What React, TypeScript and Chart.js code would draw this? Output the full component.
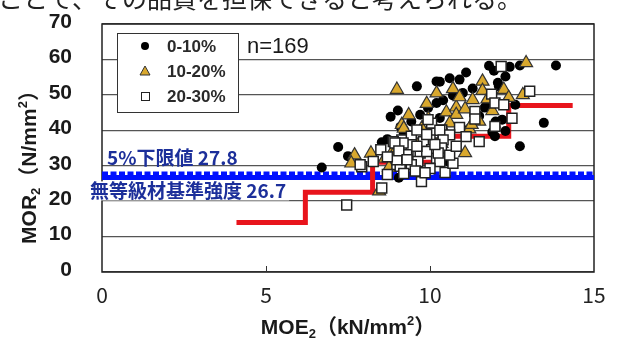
import React, { useEffect, useRef } from 'react';
import { Chart, registerables } from 'chart.js';
Chart.register(...registerables);

// MOE2 (kN/mm2), MOR2 (N/mm2) pairs per moisture group
const group0to10: [number, number][] = [
  [6.7, 29.5], [7.2, 35.3], [7.5, 32.7], [8.53, 36.6], [9.05, 26.6], [9.02, 45.6], [9.6, 52.4],
  [10.2, 53.8], [10.6, 54.7], [10.9, 54.3], [11.1, 56.3], [11.8, 58.2], [12.43, 57.9], [12.74, 58.3],
  [13.84, 58.3], [12.07, 53.4], [10.3, 53.7], [9.43, 42.5], [9.7, 44.4], [9.94, 46.3], [10.2, 47.7],
  [10.4, 48.5], [11.67, 46.4], [12.6, 47.2], [13.47, 42.1], [12.0, 42.5], [12.74, 35.5], [10.56, 31.2],
  [11.98, 38.3], [12.1, 52.4], [12.2, 43.0], [12.0, 40.8], [11.7, 46.7], [10.3, 43.5], [11.2, 40.5],
  [11.9, 39.5], [9.1, 41.0], [8.7, 37.5], [10.0, 35.5], [11.5, 44.0], [12.3, 39.8], [9.35, 36.5],
  [11.0, 50.5], [10.7, 49.8], [8.8, 43.8], [9.2, 39.0], [11.3, 51.8], [12.3, 55.2], [11.95, 56.8],
];
const group10to20: [number, number][] = [
  [8.99, 51.5], [7.7, 33.0], [7.6, 30.7], [8.63, 32.1], [8.85, 33.9], [8.45, 22.8], [9.14, 41.6],
  [9.2, 40.5], [9.75, 40.6], [10.5, 45.1], [10.8, 46.5], [10.7, 51.7], [10.9, 49.4], [11.3, 48.6],
  [11.6, 53.8], [11.6, 51.2], [12.25, 51.5], [12.93, 59.0], [12.83, 50.0], [11.07, 33.6], [11.2, 40.3],
  [10.8, 44.4], [10.6, 42.0], [11.07, 46.0], [11.5, 42.5], [11.27, 41.6], [9.95, 43.3], [10.1, 38.5],
  [9.5, 37.5], [8.2, 33.5], [9.0, 35.0], [10.35, 36.2], [11.9, 45.5], [12.4, 49.2], [10.2, 50.5],
  [9.9, 47.5], [8.75, 29.5], [10.45, 39.5], [11.75, 48.8], [9.35, 44.3],
];
const group20to30: [number, number][] = [
  [12.17, 58.0], [13.04, 51.0], [11.88, 50.2], [11.98, 47.7], [12.25, 47.2], [11.37, 45.3], [12.5, 43.4],
  [11.98, 41.1], [10.9, 40.8], [10.36, 40.1], [11.5, 36.8], [11.37, 43.2], [10.05, 42.0], [10.1, 39.2],
  [10.3, 40.0], [10.0, 37.3], [10.6, 38.7], [10.4, 37.3], [10.35, 35.0], [9.14, 37.3], [9.43, 38.3],
  [9.94, 43.0], [9.43, 35.9], [9.8, 36.8], [9.6, 40.1], [8.88, 36.8], [9.18, 36.4], [9.7, 33.6],
  [9.33, 33.1], [10.05, 34.5], [9.63, 31.2], [10.2, 32.1], [10.3, 31.2], [8.99, 30.3], [8.27, 31.2],
  [7.92, 29.7], [8.93, 36.4], [9.9, 34.0], [9.29, 33.1], [9.43, 30.3], [9.09, 29.8], [8.99, 31.7],
  [9.74, 25.5], [7.87, 30.3], [8.53, 23.7], [7.46, 18.9], [10.46, 28.1], [10.25, 33.6], [10.7, 30.7],
  [9.55, 28.5], [9.2, 27.8], [8.7, 27.5], [10.0, 29.2], [9.85, 28.0], [8.5, 34.5], [10.6, 33.0],
  [9.6, 35.5], [11.1, 38.2], [9.05, 34.2], [10.15, 36.0], [8.7, 32.5], [9.3, 31.7], [9.9, 38.8], [10.8, 35.5],
];
// grade lower-limit step line: each level runs from stepX[i] to stepX[i+1]
const stepX = [4.1, 6.2, 8.25, 10.3, 12.4, 14.35];
const stepY = [14, 22.5, 31, 38.3, 47];
const fifthPercentile = 27.8;
const baseStrength = 26.7;
const xTicks = [0, 5, 10, 15];
const yTicks = [0, 10, 20, 30, 40, 50, 60, 70];
const legendLabels = ['0-10%', '10-20%', '20-30%'];
const sampleLabel = 'n=169';
const refLabel1 = '5%下限値 27.8';
const refLabel2 = '無等級材基準強度 26.7';
const topText = 'ことで、その品質を担保できると考えられる。';

const toPts = (a: [number, number][]) => a.map(([x, y]) => ({ x, y }));
const stepPts = () => {
  const out: { x: number; y: number }[] = [];
  stepY.forEach((y, i) => { out.push({ x: stepX[i], y }, { x: stepX[i + 1], y }); });
  return out;
};

const TRI = '#D9A82E';
const NAVY = '#1c2f9a';

function richText(ctx: CanvasRenderingContext2D, parts: { t: string; s?: 'sub' | 'sup' }[], size: number, cx: number, cy: number, rot: number) {
  const fam = '"Liberation Sans", "Noto Sans CJK JP", sans-serif';
  const fontFor = (p: any) => `bold ${p.s ? Math.round(size * 0.62) : size}px ${fam}`;
  let w = 0;
  for (const p of parts) { ctx.font = fontFor(p); w += ctx.measureText(p.t).width; }
  ctx.save();
  ctx.translate(cx, cy);
  ctx.rotate(rot);
  ctx.textBaseline = 'alphabetic';
  ctx.textAlign = 'left';
  ctx.fillStyle = '#1a1a1a';
  let x = -w / 2;
  const base = size * 0.36;
  for (const p of parts) {
    ctx.font = fontFor(p);
    const dy = p.s === 'sub' ? size * 0.2 : p.s === 'sup' ? -size * 0.42 : 0;
    ctx.fillText(p.t, x, base + dy);
    x += ctx.measureText(p.t).width;
  }
  ctx.restore();
}

const overlay = {
  id: 'overlay',
  beforeDatasetsDraw(chart: any) {
    const { ctx, chartArea: a } = chart;
    ctx.save();
    ctx.strokeStyle = '#222';
    ctx.lineWidth = 1.5;
    ctx.strokeRect(a.left, a.top, a.right - a.left, a.bottom - a.top);
    ctx.restore();
  },
  afterDatasetsDraw(chart: any) {
    const { ctx, chartArea: a, scales } = chart;
    const xs = scales.x;
    const ys = scales.y;
    ctx.save();
    // inner tick marks
    ctx.strokeStyle = '#333';
    ctx.lineWidth = 1;
    for (const v of xTicks.slice(1, -1)) {
      const px = Math.round(xs.getPixelForValue(v)) + 0.5;
      ctx.beginPath(); ctx.moveTo(px, a.bottom); ctx.lineTo(px, a.bottom - 6); ctx.stroke();
    }
    // reference labels
    ctx.font = 'bold 19px "Noto Sans CJK JP", sans-serif';
    ctx.textBaseline = 'middle';
    ctx.textAlign = 'left';
    ctx.fillStyle = NAVY;
    const y1 = ys.getPixelForValue(fifthPercentile) - 16;
    const y2 = ys.getPixelForValue(baseStrength) + 13;
    ctx.fillText(refLabel1, a.left + 5, y1);
    const w2 = ctx.measureText(refLabel2).width;
    ctx.fillStyle = '#fff';
    ctx.fillRect(a.left - 13, y2 - 9, w2 + 4, 19);
    ctx.fillStyle = NAVY;
    ctx.fillText(refLabel2, a.left - 12, y2);
    // legend
    const lx = a.left + 15, ly = a.top + 9;
    ctx.fillStyle = '#fff';
    ctx.fillRect(lx, ly, 121, 79);
    ctx.strokeStyle = '#333';
    ctx.lineWidth = 1;
    ctx.strokeRect(lx + 0.5, ly + 0.5, 121, 79);
    const mx = lx + 28;
    const rows = [ly + 13, ly + 38, ly + 63];
    ctx.fillStyle = '#000';
    ctx.beginPath(); ctx.arc(mx, rows[0], 4, 0, Math.PI * 2); ctx.fill();
    ctx.beginPath();
    ctx.moveTo(mx, rows[1] - 5); ctx.lineTo(mx + 5, rows[1] + 4); ctx.lineTo(mx - 5, rows[1] + 4); ctx.closePath();
    ctx.fillStyle = TRI; ctx.fill(); ctx.strokeStyle = '#333'; ctx.stroke();
    ctx.fillStyle = '#fff';
    ctx.fillRect(mx - 4, rows[2] - 4, 8, 8);
    ctx.strokeStyle = '#222';
    ctx.strokeRect(mx - 3.5, rows[2] - 3.5, 8, 8);
    ctx.font = 'bold 17px "Liberation Sans", sans-serif';
    ctx.fillStyle = '#2a2a2a';
    legendLabels.forEach((t, i) => ctx.fillText(t, lx + 50, rows[i] + 1));
    ctx.font = '22px "Liberation Sans", sans-serif';
    ctx.fillStyle = '#1a1a1a';
    ctx.fillText(sampleLabel, lx + 130, rows[0] + 1);
    // axis titles
    richText(ctx, [{ t: 'MOE' }, { t: '2', s: 'sub' }, { t: '（kN/mm' }, { t: '2', s: 'sup' }, { t: '）' }], 21, (a.left + a.right) / 2, 326, 0);
    richText(ctx, [{ t: 'MOR' }, { t: '2', s: 'sub' }, { t: '（N/mm' }, { t: '2', s: 'sup' }, { t: '）' }], 21, 28, 162, -Math.PI / 2);
    // cropped text at top
    ctx.font = '25px "Noto Sans CJK JP", sans-serif';
    ctx.fillStyle = '#222';
    ctx.textBaseline = 'alphabetic';
    ctx.fillText(topText, -2, 8);
    ctx.restore();
  },
};

export default function App() {
  const ref = useRef<HTMLCanvasElement>(null);
  useEffect(() => {
    document.body.style.margin = '0';
    const chart = new Chart(ref.current!, {
      type: 'scatter',
      data: {
        datasets: [
          {
            data: toPts(group0to10), pointStyle: 'circle', pointRadius: 5, backgroundColor: '#000',
            borderWidth: 0, order: 3,
          } as any,
          {
            data: toPts(group10to20), pointStyle: 'triangle', pointRadius: 7.5, backgroundColor: TRI,
            borderColor: '#333', borderWidth: 1.2, order: 2,
          },
          {
            data: toPts(group20to30), pointStyle: 'rect', pointRadius: 7, backgroundColor: '#fff',
            borderColor: '#222', borderWidth: 1.5, order: 1,
          },
          {
            data: stepPts(), showLine: true,
            borderColor: '#e8141c', borderWidth: 5, pointRadius: 0, order: 4,
          } as any,
          {
            data: [{ x: 0, y: baseStrength }, { x: 15, y: baseStrength }], showLine: true,
            borderColor: '#0010ff', borderWidth: 5, pointRadius: 0, order: 6,
          },
          {
            data: [{ x: 0, y: fifthPercentile }, { x: 15, y: fifthPercentile }], showLine: true,
            borderColor: '#0010ff', borderWidth: 4, borderDash: [6, 2.5], pointRadius: 0, order: 5,
          },
        ],
      },
      options: {
        animation: false,
        responsive: false,
        layout: { autoPadding: false, padding: { left: 0, top: 24, right: 33, bottom: 0 } },
        plugins: { legend: { display: false }, tooltip: { enabled: false } },
        scales: {
          x: {
            type: 'linear', min: 0, max: 15,
            afterFit: (s: any) => { s.height = 66; s.paddingLeft = 0; s.paddingRight = 0; },
            afterBuildTicks: (s: any) => { s.ticks = xTicks.map((v) => ({ value: v })); },
            grid: { display: false },
            border: { display: false },
            ticks: { color: '#222', padding: 2, font: { family: '"Noto Sans CJK JP", sans-serif', size: 21 } },
          },
          y: {
            type: 'linear', min: 0, max: 70,
            afterFit: (s: any) => { s.width = 102; s.paddingTop = 0; s.paddingBottom = 0; },
            afterBuildTicks: (s: any) => { s.ticks = yTicks.map((v) => ({ value: v })); },
            grid: { color: '#555', lineWidth: 1.3, drawTicks: false },
            border: { display: false },
            ticks: { color: '#1a1a1a', padding: 30, labelOffset: -2, font: { family: '"Liberation Sans", sans-serif', size: 21, weight: 'bold' } },
          },
        },
      },
      plugins: [overlay],
    });
    return () => chart.destroy();
  }, []);
  return (
    <div style={{ width: 627, height: 338, background: '#fff' }}>
      <canvas ref={ref} width={627} height={338} style={{ width: 627, height: 338, display: 'block' }} />
    </div>
  );
}
